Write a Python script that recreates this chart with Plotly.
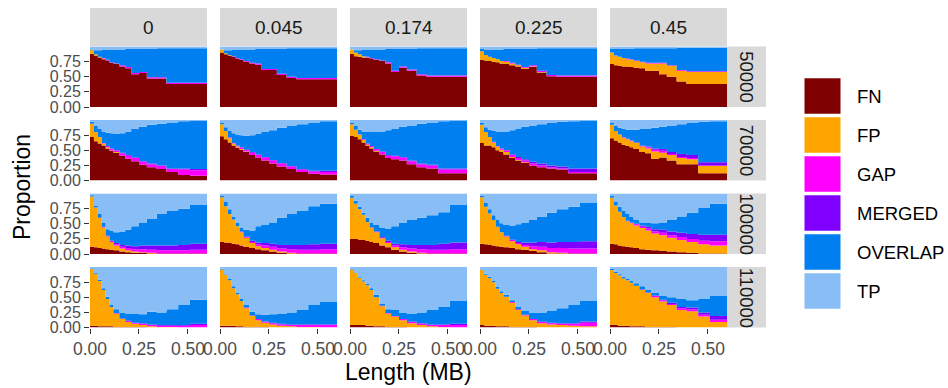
import plotly.graph_objects as go

# ---- data -----------------------------------------------------------------
# Left edges of the length bins (MB); the final entry closes the last bin.
length_edges = [0.00, 0.02, 0.04, 0.06, 0.08, 0.10, 0.12, 0.15, 0.18, 0.21,
                0.25, 0.29, 0.34, 0.39, 0.45, 0.51, 0.60]

thresholds = ["0", "0.045", "0.174", "0.225", "0.45"]      # facet columns
windows = ["50000", "70000", "100000", "110000"]            # facet rows
categories = ["FN", "FP", "GAP", "MERGED", "OVERLAP", "TP"]

# Percent of calls in each length bin, one list per panel (row-major:
# window 50000 with thresholds 0 .. 0.45, then 70000, 100000, 110000).
FN = [
    [88, 85, 82, 79, 77, 73, 71, 67, 64, 54, 56, 47, 47, 38, 38, 38],
    [90, 87, 85, 83, 80, 78, 75, 72, 70, 61, 61, 53, 48, 46, 46, 46],
    [88, 84, 83, 82, 81, 80, 78, 76, 72, 58, 65, 60, 52, 50, 50, 50],
    [78, 77, 76, 75, 74, 72, 71, 69, 67, 63, 66, 57, 51, 50, 50, 50],
    [71, 69, 68, 67, 67, 66, 65, 64, 60, 60, 54, 50, 42, 38, 38, 38],
    [72, 65, 61, 58, 53, 49, 46, 41, 36, 32, 26, 22, 19, 14, 9, 8],
    [73, 68, 63, 58, 54, 51, 47, 42, 38, 33, 28, 23, 19, 14, 11, 10],
    [74, 72, 68, 63, 57, 53, 48, 43, 37, 35, 33, 27, 22, 20, 12, 12],
    [62, 58, 58, 55, 50, 47, 43, 37, 33, 29, 25, 22, 20, 18, 12, 12],
    [70, 66, 63, 59, 57, 55, 52, 47, 45, 36, 38, 33, 27, 27, 12, 12],
    [12, 11, 10, 9, 8, 7, 6, 4, 3, 2, 2, 1, 1, 1, 1, 1],
    [20, 19, 18, 17, 16, 14, 12, 10, 8, 6, 4, 2, 1, 1, 1, 1],
    [25, 25, 24, 23, 22, 20, 18, 14, 11, 7, 4, 2, 1, 1, 1, 1],
    [17, 16, 15, 14, 13, 12, 11, 10, 8, 7, 5, 3, 1, 1, 1, 1],
    [17, 16, 14, 13, 12, 11, 10, 8, 7, 6, 5, 4, 3, 2, 1, 1],
    [3, 3, 2, 2, 2, 2, 1, 1, 1, 1, 1, 0, 0, 0, 0, 0],
    [3, 3, 3, 3, 2, 2, 1, 1, 1, 1, 0, 0, 0, 0, 0, 0],
    [4, 4, 4, 4, 3, 3, 2, 2, 1, 1, 1, 0, 0, 0, 0, 0],
    [4, 3, 3, 3, 2, 2, 2, 1, 1, 1, 1, 0, 0, 0, 0, 0],
    [4, 4, 3, 3, 3, 2, 2, 2, 1, 1, 1, 1, 0, 0, 0, 0],
]
FP = [
    [6, 2, 1, 1, 0, 0, 0, 0, 0, 0, 0, 0, 0, 0, 0, 0],
    [5, 2, 1, 0, 0, 0, 0, 0, 0, 0, 0, 0, 0, 0, 0, 0],
    [7, 6, 4, 2, 1, 0, 0, 0, 0, 0, 0, 0, 0, 0, 0, 0],
    [14, 9, 7, 6, 5, 4, 4, 3, 2, 2, 1, 1, 0, 0, 0, 0],
    [19, 16, 15, 14, 12, 12, 11, 10, 12, 12, 18, 18, 18, 20, 20, 20],
    [22, 15, 11, 3, 2, 1, 1, 0, 0, 0, 0, 0, 0, 0, 0, 0],
    [20, 14, 7, 3, 2, 1, 1, 0, 0, 0, 0, 0, 0, 0, 0, 0],
    [19, 12, 8, 4, 2, 2, 1, 0, 0, 0, 0, 0, 0, 0, 0, 0],
    [30, 22, 14, 8, 6, 4, 4, 2, 1, 1, 0, 0, 0, 0, 0, 0],
    [22, 16, 13, 12, 11, 10, 10, 9, 8, 12, 8, 9, 10, 8, 12, 12],
    [83, 66, 50, 35, 21, 13, 8, 5, 3, 2, 1, 1, 0, 0, 0, 0],
    [74, 60, 48, 40, 30, 22, 15, 8, 5, 4, 3, 2, 1, 0, 0, 0],
    [68, 58, 50, 42, 31, 24, 18, 12, 7, 4, 3, 2, 1, 0, 0, 0],
    [77, 62, 52, 42, 32, 24, 18, 11, 8, 5, 3, 3, 2, 1, 0, 0],
    [76, 64, 56, 48, 42, 40, 37, 35, 32, 28, 26, 23, 20, 18, 15, 13],
    [94, 86, 75, 60, 45, 32, 22, 13, 8, 5, 3, 2, 1, 1, 0, 0],
    [93, 84, 75, 62, 53, 42, 31, 18, 11, 7, 5, 3, 2, 1, 1, 0],
    [92, 86, 78, 72, 67, 59, 48, 33, 22, 17, 11, 7, 4, 2, 1, 0],
    [91, 84, 79, 72, 62, 55, 49, 40, 28, 19, 11, 7, 5, 4, 3, 2],
    [91, 86, 83, 78, 75, 72, 67, 60, 56, 49, 42, 36, 29, 27, 18, 9],
]
GAP = [
    [0, 0, 0, 1, 1, 1, 1, 2, 2, 2, 2, 2, 2, 2, 2, 2],
    [0, 0, 0, 1, 1, 1, 1, 1, 2, 2, 2, 2, 2, 2, 2, 2],
    [0, 0, 0, 0, 1, 1, 1, 1, 2, 2, 2, 2, 2, 2, 2, 2],
    [0, 0, 0, 0, 0, 0, 1, 1, 1, 1, 2, 2, 2, 2, 2, 2],
    [0, 0, 0, 0, 1, 1, 1, 1, 1, 1, 1, 1, 1, 1, 1, 1],
    [0, 0, 0, 1, 2, 3, 3, 4, 5, 5, 5, 5, 5, 5, 9, 9],
    [0, 0, 1, 1, 2, 3, 3, 4, 4, 5, 5, 5, 4, 4, 4, 4],
    [0, 0, 0, 1, 2, 2, 3, 4, 4, 5, 5, 5, 5, 5, 6, 6],
    [0, 0, 0, 1, 1, 2, 3, 3, 3, 3, 3, 3, 2, 2, 2, 2],
    [0, 0, 0, 1, 1, 1, 1, 1, 2, 3, 3, 2, 2, 2, 1, 1],
    [0, 0, 0, 1, 1, 2, 2, 3, 4, 4, 5, 5, 5, 5, 5, 6],
    [0, 0, 0, 0, 0, 1, 1, 2, 3, 4, 5, 5, 6, 6, 6, 7],
    [0, 0, 0, 0, 0, 0, 1, 1, 2, 3, 4, 5, 6, 6, 6, 7],
    [0, 0, 0, 0, 0, 0, 1, 2, 2, 3, 5, 6, 7, 8, 8, 8],
    [0, 0, 0, 0, 1, 1, 2, 2, 3, 3, 4, 4, 5, 5, 6, 7],
    [0, 0, 0, 0, 0, 0, 1, 1, 2, 2, 2, 2, 2, 2, 3, 4],
    [0, 0, 0, 0, 0, 0, 1, 1, 2, 2, 2, 2, 2, 3, 3, 4],
    [0, 0, 0, 0, 0, 0, 0, 1, 1, 1, 2, 2, 2, 2, 3, 4],
    [0, 0, 0, 0, 0, 0, 0, 1, 1, 1, 2, 2, 2, 2, 3, 6],
    [0, 0, 0, 0, 0, 0, 0, 1, 1, 2, 2, 2, 3, 3, 3, 4],
]
MERGED = [
    [0, 0, 0, 0, 0, 0, 0, 0, 0, 0, 0, 0, 0, 0, 0, 0],
    [0, 0, 0, 0, 0, 0, 0, 0, 0, 0, 0, 0, 0, 0, 0, 0],
    [0, 0, 0, 0, 0, 0, 0, 0, 0, 0, 0, 0, 0, 0, 0, 0],
    [0, 0, 0, 0, 0, 0, 0, 0, 0, 0, 0, 0, 0, 0, 0, 0],
    [0, 0, 0, 0, 0, 0, 0, 0, 0, 0, 0, 0, 0, 0, 0, 0],
    [0, 0, 0, 0, 0, 0, 0, 1, 1, 1, 1, 1, 1, 1, 2, 2],
    [0, 0, 0, 0, 0, 0, 0, 1, 1, 1, 1, 1, 1, 1, 1, 2],
    [0, 0, 0, 0, 0, 0, 0, 1, 1, 1, 1, 1, 1, 1, 2, 2],
    [0, 0, 0, 0, 0, 0, 0, 1, 2, 2, 3, 3, 3, 3, 6, 6],
    [0, 0, 0, 0, 0, 0, 0, 1, 1, 2, 3, 3, 5, 5, 5, 5],
    [0, 0, 0, 0, 0, 0, 2, 3, 4, 5, 6, 7, 8, 8, 9, 10],
    [0, 0, 0, 0, 0, 0, 1, 2, 3, 4, 5, 6, 7, 8, 9, 9],
    [0, 0, 0, 0, 0, 0, 0, 1, 2, 3, 5, 6, 7, 8, 10, 11],
    [0, 0, 0, 0, 0, 0, 0, 1, 2, 4, 6, 8, 9, 10, 11, 12],
    [0, 0, 0, 0, 0, 0, 1, 2, 3, 4, 5, 6, 7, 8, 10, 11],
    [0, 0, 0, 0, 0, 0, 0, 0, 0, 0, 1, 1, 1, 1, 1, 2],
    [0, 0, 0, 0, 0, 0, 0, 0, 0, 0, 1, 1, 1, 1, 1, 1],
    [0, 0, 0, 0, 0, 0, 0, 0, 0, 0, 0, 1, 1, 1, 1, 2],
    [0, 0, 0, 0, 0, 0, 0, 0, 0, 0, 0, 1, 1, 1, 1, 2],
    [0, 0, 0, 0, 0, 0, 0, 0, 0, 1, 1, 2, 2, 3, 4, 6],
]
OVERLAP = [
    [1, 7, 11, 14, 17, 21, 23, 26, 30, 40, 38, 47, 48, 57, 57, 57],
    [0, 5, 8, 11, 14, 16, 19, 22, 24, 33, 33, 41, 47, 49, 49, 49],
    [0, 4, 7, 11, 12, 14, 16, 18, 22, 36, 29, 34, 43, 45, 45, 45],
    [4, 9, 12, 14, 16, 19, 20, 23, 26, 30, 27, 37, 44, 45, 45, 45],
    [6, 11, 13, 15, 16, 17, 20, 22, 24, 24, 24, 28, 37, 39, 39, 39],
    [3, 10, 13, 19, 22, 25, 27, 32, 39, 47, 57, 64, 69, 76, 78, 80],
    [3, 6, 11, 16, 18, 20, 23, 28, 34, 41, 49, 58, 66, 74, 80, 82],
    [3, 6, 8, 13, 19, 23, 28, 33, 41, 44, 50, 58, 66, 70, 78, 79],
    [3, 8, 12, 18, 24, 27, 31, 40, 47, 54, 60, 65, 70, 74, 78, 79],
    [3, 8, 11, 13, 15, 18, 21, 27, 30, 34, 37, 44, 49, 53, 67, 68],
    [2, 3, 6, 7, 11, 17, 18, 22, 26, 33, 38, 44, 52, 58, 60, 64],
    [2, 7, 8, 5, 6, 7, 11, 17, 27, 30, 35, 45, 51, 57, 63, 66],
    [3, 5, 4, 3, 7, 8, 11, 16, 20, 29, 36, 41, 45, 49, 52, 62],
    [2, 7, 7, 8, 11, 15, 18, 23, 29, 33, 37, 41, 49, 54, 58, 64],
    [3, 6, 8, 11, 11, 9, 7, 5, 7, 10, 12, 20, 27, 35, 44, 51],
    [1, 1, 2, 3, 4, 4, 6, 10, 12, 15, 15, 21, 21, 26, 33, 40],
    [1, 1, 2, 3, 3, 4, 5, 6, 8, 11, 14, 17, 20, 24, 33, 37],
    [1, 1, 1, 2, 2, 3, 4, 3, 6, 10, 10, 13, 18, 24, 29, 38],
    [1, 2, 2, 2, 3, 3, 3, 3, 4, 7, 11, 15, 20, 25, 30, 34],
    [2, 2, 2, 3, 3, 3, 4, 5, 5, 5, 7, 9, 13, 12, 23, 34],
]
TP = [
    [5, 6, 6, 5, 5, 5, 5, 5, 4, 4, 4, 4, 3, 3, 3, 3],
    [5, 6, 6, 5, 5, 5, 5, 5, 4, 4, 4, 4, 3, 3, 3, 3],
    [5, 6, 6, 5, 5, 5, 5, 5, 4, 4, 4, 4, 3, 3, 3, 3],
    [4, 5, 5, 5, 5, 5, 4, 4, 4, 4, 4, 3, 3, 3, 3, 3],
    [4, 4, 4, 4, 4, 4, 3, 3, 3, 3, 3, 3, 2, 2, 2, 2],
    [3, 10, 15, 19, 21, 22, 23, 22, 19, 15, 11, 8, 6, 4, 2, 1],
    [4, 12, 18, 22, 24, 25, 26, 25, 23, 20, 17, 13, 10, 7, 4, 2],
    [4, 10, 16, 19, 20, 20, 20, 19, 17, 15, 11, 9, 6, 4, 2, 1],
    [5, 12, 16, 18, 19, 20, 19, 17, 14, 11, 9, 7, 5, 3, 2, 1],
    [5, 10, 13, 15, 16, 16, 16, 15, 14, 13, 11, 9, 7, 5, 3, 2],
    [3, 20, 34, 48, 59, 61, 64, 63, 60, 54, 48, 42, 34, 28, 25, 19],
    [4, 14, 26, 38, 48, 56, 60, 61, 54, 52, 48, 40, 34, 28, 21, 17],
    [4, 12, 22, 32, 40, 48, 52, 56, 58, 54, 48, 44, 40, 36, 31, 19],
    [4, 15, 26, 36, 44, 49, 52, 53, 51, 48, 44, 39, 32, 26, 22, 15],
    [4, 14, 22, 28, 34, 39, 43, 48, 48, 49, 48, 43, 38, 32, 24, 17],
    [2, 10, 21, 35, 49, 62, 70, 75, 77, 77, 78, 74, 75, 70, 63, 54],
    [3, 12, 20, 32, 42, 52, 62, 74, 78, 79, 78, 77, 75, 71, 62, 58],
    [3, 9, 17, 22, 28, 35, 46, 61, 70, 71, 76, 77, 75, 71, 66, 56],
    [4, 11, 16, 23, 33, 40, 46, 55, 66, 72, 75, 75, 72, 68, 63, 56],
    [3, 8, 12, 16, 19, 23, 27, 32, 37, 42, 47, 50, 53, 55, 52, 47],
]

x_ticks = [0.0, 0.25, 0.5]
x_tick_text = ["0.00", "0.25", "0.50"]
y_ticks = [0.0, 0.25, 0.5, 0.75]
y_tick_text = ["0.00", "0.25", "0.50", "0.75"]

# ---- styling ----------------------------------------------------------------
series = {"FN": FN, "FP": FP, "GAP": GAP, "MERGED": MERGED,
          "OVERLAP": OVERLAP, "TP": TP}
fill_colors = {"FN": "#7F0000", "FP": "#FFA500", "GAP": "#FF00FF",
               "MERGED": "#8000FF", "OVERLAP": "#0080F0", "TP": "#88BEF5"}

FONT = "Liberation Sans, Arial, Helvetica, sans-serif"
W, H = 948, 388
PANEL_W, PANEL_H = 117, 60.5
COL_LEFT = [90, 220, 350, 480, 610]
ROW_TOP = [46.5, 120, 193.5, 267]
STRIP_TOP_Y0, STRIP_W = 8, 39
STRIP_FILL = "#D9D9D9"


def fx(px):
    return px / W


def fy(py):
    return 1 - py / H


fig = go.Figure()
layout = {}
shapes = []
annotations = []

for r, win in enumerate(windows):
    for c, thr in enumerate(thresholds):
        p = r * len(thresholds) + c
        n = p + 1
        xa = "x" if n == 1 else f"x{n}"
        ya = "y" if n == 1 else f"y{n}"
        for cat in categories:
            vals = series[cat][p]
            fig.add_trace(go.Scatter(
                x=length_edges,
                y=vals + [vals[-1]],
                xaxis=xa, yaxis=ya,
                mode="lines",
                line=dict(width=0, shape="hv"),
                fillcolor=fill_colors[cat],
                stackgroup=f"panel{n}",
                groupnorm="fraction",
                name=cat,
                showlegend=False,
                hoverinfo="skip",
            ))

        bottom_row = r == len(windows) - 1
        first_col = c == 0
        layout["xaxis" if n == 1 else f"xaxis{n}"] = dict(
            domain=[fx(COL_LEFT[c]), fx(COL_LEFT[c] + PANEL_W)],
            anchor=ya, range=[0, 0.597], automargin=False,
            tickvals=x_ticks, ticktext=x_tick_text,
            showticklabels=bottom_row,
            ticks="outside" if bottom_row else "",
            ticklen=5, tickwidth=1, tickcolor="#333333",
            tickfont=dict(family=FONT, size=17.5, color="#4D4D4D"),
            showgrid=False, zeroline=False, showline=False, fixedrange=True,
        )
        layout["yaxis" if n == 1 else f"yaxis{n}"] = dict(
            domain=[fy(ROW_TOP[r] + PANEL_H), fy(ROW_TOP[r])],
            anchor=xa, range=[0, 1], automargin=False,
            tickvals=y_ticks, ticktext=y_tick_text,
            showticklabels=first_col,
            ticks="outside" if first_col else "",
            ticklen=5, tickwidth=1, tickcolor="#333333",
            tickfont=dict(family=FONT, size=16, color="#4D4D4D"),
            showgrid=False, zeroline=False, showline=False, fixedrange=True,
        )

# column strips (threshold)
for c, thr in enumerate(thresholds):
    shapes.append(dict(type="rect", xref="paper", yref="paper",
                       x0=fx(COL_LEFT[c]), x1=fx(COL_LEFT[c] + PANEL_W),
                       y0=fy(ROW_TOP[0]), y1=fy(STRIP_TOP_Y0),
                       fillcolor=STRIP_FILL, line=dict(width=0)))
    annotations.append(dict(xref="paper", yref="paper",
                            x=fx(COL_LEFT[c] + PANEL_W / 2),
                            y=fy((STRIP_TOP_Y0 + ROW_TOP[0]) / 2),
                            text=thr, showarrow=False,
                            xanchor="center", yanchor="middle",
                            font=dict(family=FONT, size=19, color="#1A1A1A")))

# row strips (window)
strip_x0 = COL_LEFT[-1] + PANEL_W
for r, win in enumerate(windows):
    shapes.append(dict(type="rect", xref="paper", yref="paper",
                       x0=fx(strip_x0), x1=fx(strip_x0 + STRIP_W),
                       y0=fy(ROW_TOP[r] + PANEL_H), y1=fy(ROW_TOP[r]),
                       fillcolor=STRIP_FILL, line=dict(width=0)))
    annotations.append(dict(xref="paper", yref="paper",
                            x=fx(strip_x0 + STRIP_W / 2),
                            y=fy(ROW_TOP[r] + PANEL_H / 2),
                            text=win, textangle=90, showarrow=False,
                            xanchor="center", yanchor="middle",
                            font=dict(family=FONT, size=18.5, color="#1A1A1A")))

# axis titles
annotations.append(dict(xref="paper", yref="paper",
                        x=fx((COL_LEFT[0] + COL_LEFT[-1] + PANEL_W) / 2),
                        y=fy(372), text="Length (MB)", showarrow=False,
                        xanchor="center", yanchor="middle",
                        font=dict(family=FONT, size=23, color="#000000")))
annotations.append(dict(xref="paper", yref="paper",
                        x=fx(22), y=fy((ROW_TOP[0] + ROW_TOP[-1] + PANEL_H) / 2),
                        text="Proportion", textangle=-90, showarrow=False,
                        xanchor="center", yanchor="middle",
                        font=dict(family=FONT, size=23, color="#000000")))

# legend keys
KEY_X0, KEY_SIZE, KEY_TOP0, KEY_STEP = 804.5, 36, 78.3, 39
for i, cat in enumerate(categories):
    top = KEY_TOP0 + i * KEY_STEP
    shapes.append(dict(type="rect", xref="paper", yref="paper",
                       x0=fx(KEY_X0), x1=fx(KEY_X0 + KEY_SIZE),
                       y0=fy(top + KEY_SIZE - 0.5), y1=fy(top),
                       fillcolor=fill_colors[cat], line=dict(width=0)))
    annotations.append(dict(xref="paper", yref="paper",
                            x=fx(855), y=fy(top + KEY_SIZE / 2),
                            text=cat, showarrow=False,
                            xanchor="left", yanchor="middle",
                            font=dict(family=FONT, size=18.5, color="#000000")))

fig.update_layout(
    width=W, height=H,
    margin=dict(l=0, r=0, t=0, b=0),
    paper_bgcolor="white", plot_bgcolor="white",
    showlegend=False,
    shapes=shapes, annotations=annotations,
    **layout,
)

fig.write_html("out.html")
